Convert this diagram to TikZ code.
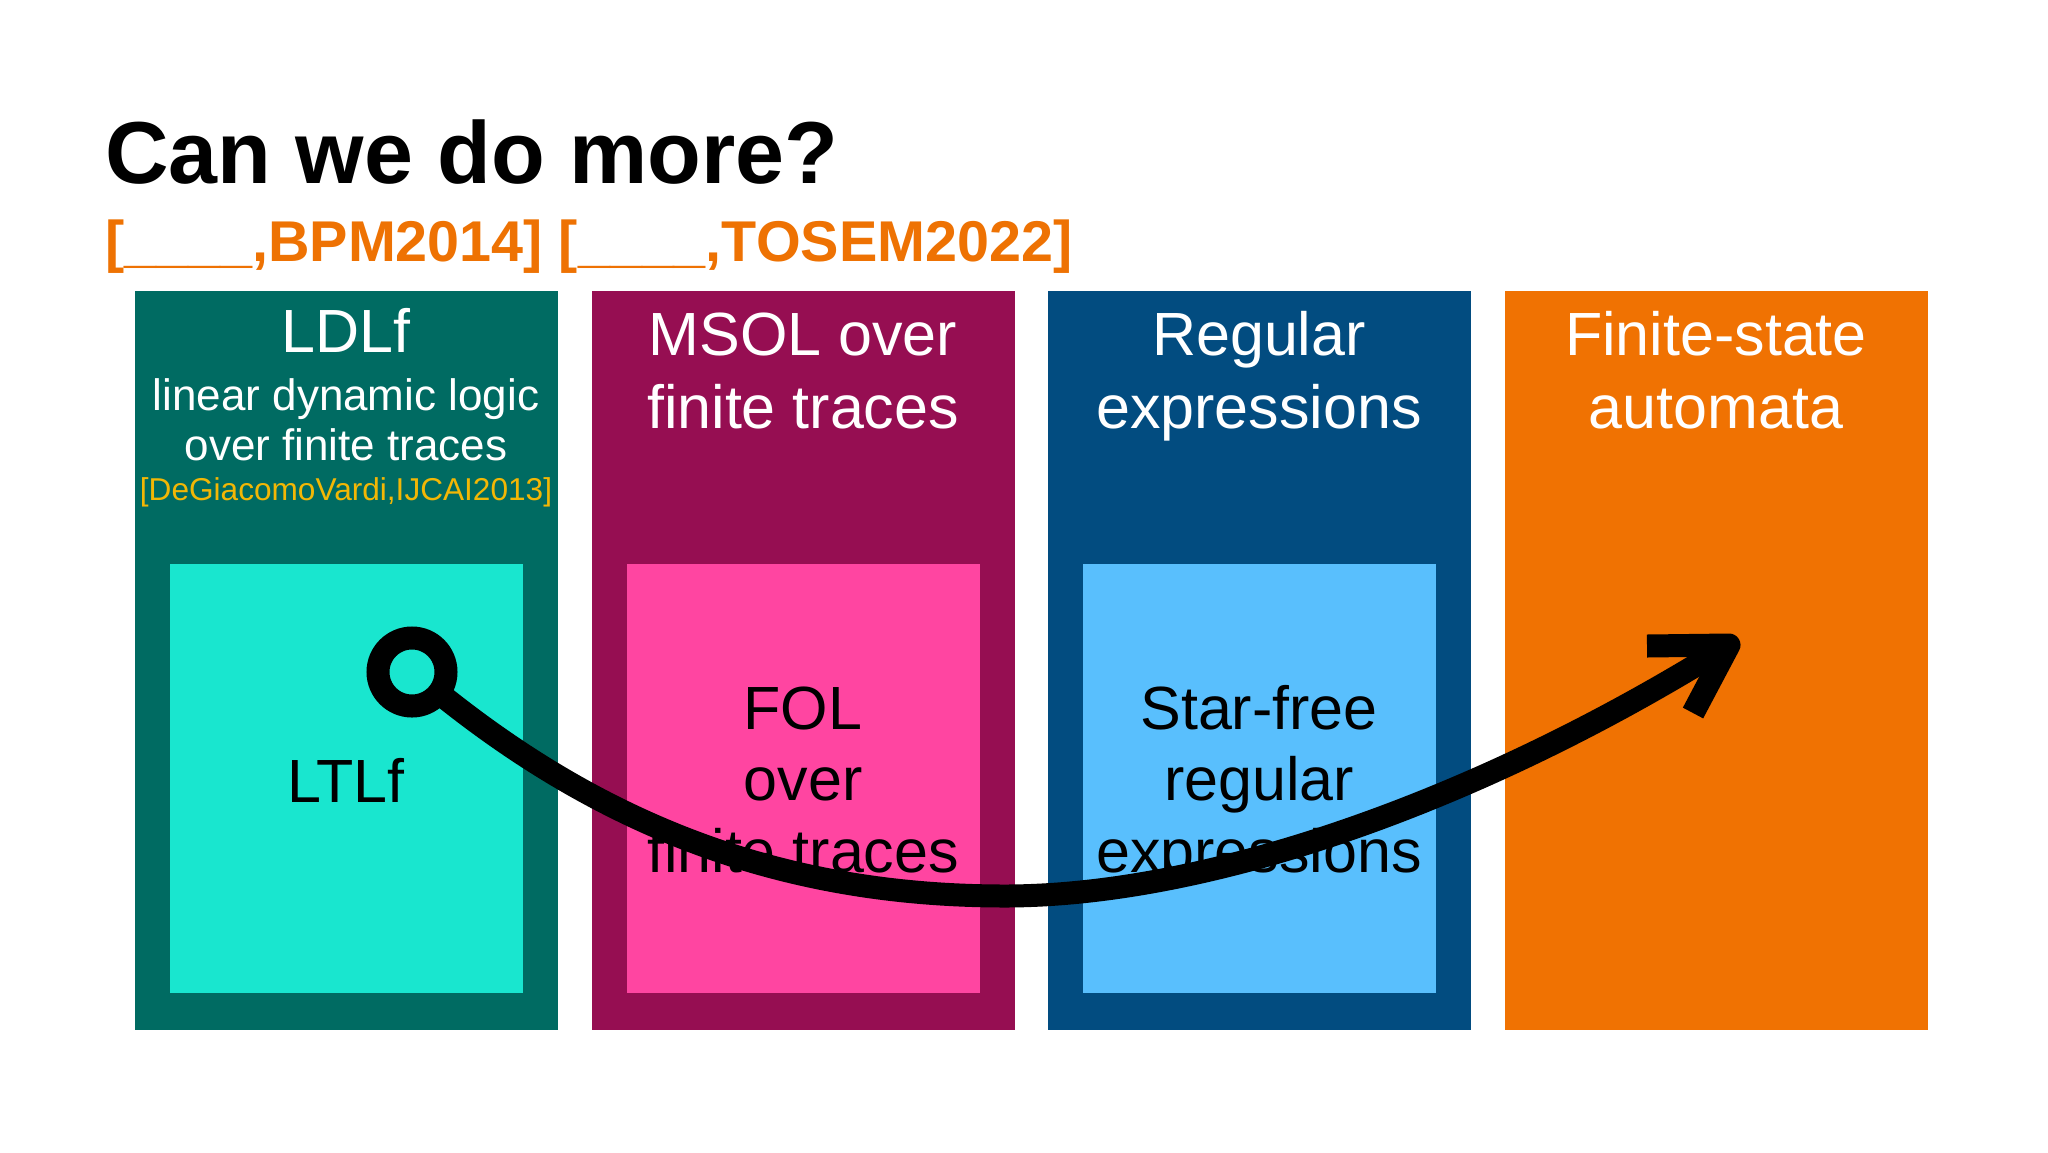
\documentclass[tikz,border=0pt]{standalone}
\usepackage{fontspec}
\setmainfont{Liberation Sans}
\newcommand{\myfs}[1]{\fontsize{#1}{#1}\selectfont}
\definecolor{tealout}{HTML}{006B62}
\definecolor{tealin}{HTML}{19E6CF}
\definecolor{maroonout}{HTML}{960E52}
\definecolor{pinkin}{HTML}{FF45A1}
\definecolor{navyout}{HTML}{024C80}
\definecolor{bluein}{HTML}{59BFFD}
\definecolor{orangebox}{HTML}{F07202}
\definecolor{suborange}{HTML}{EE7203}
\definecolor{citegold}{HTML}{F2B705}
\begin{document}
\begin{tikzpicture}[x=1pt,y=-1pt,
  outerbox/.style={anchor=north west, inner sep=0pt, outer sep=0pt, minimum width=423pt, minimum height=739pt, draw=none},
  innerbox/.style={anchor=north west, inner sep=0pt, outer sep=0pt, minimum width=352.5pt, minimum height=428.5pt, draw=none},
  hdr/.style={anchor=base, inner sep=0pt, text=white, font=\myfs{61}},
  desc/.style={anchor=base, inner sep=0pt, text=white, font=\myfs{44}},
  citetext/.style={anchor=base, inner sep=0pt, text=citegold, font=\myfs{31.6}},
  body/.style={anchor=base, inner sep=0pt, text=black, font=\myfs{61}},
  thick line/.style={line width=23pt}
]
\fill[white] (0,0) rectangle (2048,1152);
\useasboundingbox (0,0) rectangle (2048,1152);

% title
\node[anchor=base west, inner sep=0pt, font=\bfseries\myfs{88}] (title) at (105,183) {Can we do more?};
\node[anchor=base west, inner sep=0pt, text=suborange, font=\bfseries\myfs{57.5}] (sub) at (105,261) {[\_\_\_\_,BPM2014] [\_\_\_\_,TOSEM2022]};

% boxes
\node[outerbox, fill=tealout] (b1) at (134.5,291) {};
\node[outerbox, fill=maroonout] (b2) at (591.5,291) {};
\node[outerbox, fill=navyout] (b3) at (1047.5,291) {};
\node[outerbox, fill=orangebox] (b4) at (1504.5,291) {};

\node[innerbox, fill=tealin] (i1) at (170,564) {};
\node[innerbox, fill=pinkin] (i2) at (627,564) {};
\node[innerbox, fill=bluein] (i3) at (1083,564) {};

% headers
\node[hdr] (h1) at (346,352) {LDLf};
\node[desc] (d1a) at (346,410) {linear dynamic logic};
\node[desc] (d1b) at (346,460) {over finite traces};
\node[citetext] (c1) at (346,500) {[DeGiacomoVardi,IJCAI2013]};

\node[hdr] (h2a) at (803,355) {MSOL over};
\node[hdr] (h2b) at (803,428) {finite traces};
\node[hdr] (h3a) at (1259,355) {Regular};
\node[hdr] (h3b) at (1259,428) {expressions};
\node[hdr] (h4a) at (1716,355) {Finite-state};
\node[hdr] (h4b) at (1716,428) {automata};

% inner texts
\node[body] (t1) at (346,802) {LTLf};
\node[body] (t2a) at (803,729) {FOL};
\node[body] (t2b) at (803,800) {over};
\node[body] (t2c) at (803,872) {finite traces};
\node[body] (t3a) at (1259,729) {Star-free};
\node[body] (t3b) at (1259,800) {regular};
\node[body] (t3c) at (1259,872) {expressions};

% arrow
\node[circle, draw=black, line width=23pt, minimum size=68pt, inner sep=0pt, outer sep=0pt] (start) at (412,672) {};
\coordinate (mid) at (1005,896);
\coordinate (tip) at (1729,645);
\coordinate (barbA) at (1647,646);
\coordinate (barbB) at (1693,713);
\draw[thick line] (start.-38) .. controls (621,840) and (805,896) .. (mid)
  .. controls (1205,896) and (1475,804) .. (tip);
\draw[thick line, line join=round] (barbA) -- (tip) -- (barbB);
\end{tikzpicture}
\end{document}
